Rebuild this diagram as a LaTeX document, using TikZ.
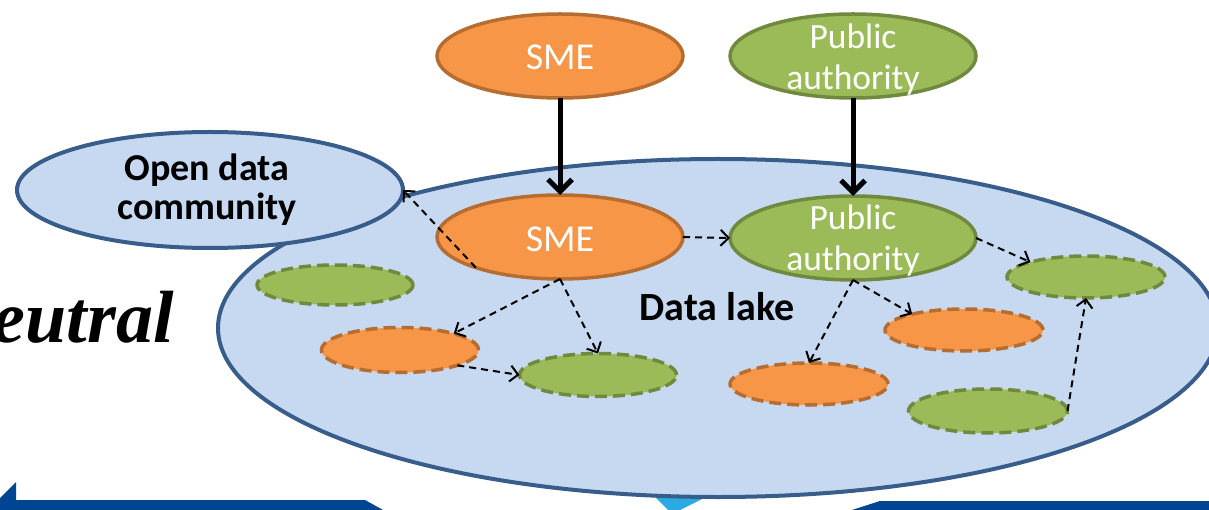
\documentclass[tikz,border=0pt]{standalone}
\usepackage{fontspec}
\setmainfont{Carlito}
\newfontfamily\serifbi{Liberation Serif}
\usetikzlibrary{shapes.geometric,arrows.meta}
\definecolor{lakefill}{HTML}{C6D9F1}
\definecolor{lakeline}{HTML}{385D8A}
\definecolor{orfill}{HTML}{F79646}
\definecolor{orline}{HTML}{B66D31}
\definecolor{grfill}{HTML}{9BBB59}
\definecolor{grline}{HTML}{71893F}
\definecolor{barblue}{HTML}{004592}
\definecolor{cyanb}{HTML}{29ABE2}
\begin{document}
\begin{tikzpicture}[x=1pt,y=-1pt,
  blob/.style={ellipse, inner sep=0pt, outer sep=0pt},
  lakestyle/.style={blob, fill=lakefill, draw=lakeline, line width=4pt},
  orsolid/.style={blob, fill=orfill, draw=orline, line width=3.5pt, minimum width=246pt, minimum height=84pt},
  grsolid/.style={blob, fill=grfill, draw=grline, line width=3.5pt, minimum width=246pt, minimum height=84pt},
  ordash/.style={blob, fill=orfill, draw=orline, line width=3.5pt, dash pattern=on 12pt off 6pt},
  grdash/.style={blob, fill=grfill, draw=grline, line width=3.5pt, dash pattern=on 12pt off 6pt},
  whitetxt/.style={text=white, inner sep=0pt, align=center},
  boldtxt/.style={text=black, inner sep=0pt, align=center, font=\bfseries\fontsize{38}{39}\selectfont},
  darrow/.style={black, line width=2pt, dash pattern=on 7pt off 5pt, -{Straight Barb[length=8pt,width=16pt]}},
  bigarrow/.style={black, line width=5pt, -{Straight Barb[length=12pt,width=24pt]}}
]
\clip (0,0) rectangle (1209,510);
\fill[white] (0,0) rectangle (1209,510);

% bottom decorations
\fill[barblue] (0,498) -- (16,482) -- (16,500) -- (365,500) -- (383,510) -- (0,510) -- cycle;
\fill[barblue] (852,510) -- (880,501) -- (1209,501) -- (1209,510) -- cycle;
\fill[cyanb] (652,494) -- (712,494) -- (672,514) -- cycle;

% cut word
\node[anchor=base east, inner sep=0pt, font=\serifbi\bfseries\itshape\fontsize{74}{78}\selectfont] (neutral) at (174,342) {eutral};

% data lake
\node[lakestyle, minimum width=1000pt, minimum height=338pt] (lake) at (718,328) {};
\node[boldtxt, font=\bfseries\fontsize{40}{44}\selectfont] (laketxt) at (717,307) {Data lake};

% open data community
\node[lakestyle, minimum width=386pt, minimum height=116pt] (odc) at (210,190) {};
\node[boldtxt] (odctxt) at (207,190) {Open data\\community};

% top actors
\node[orsolid] (tsme) at (560,56) {};
\node[whitetxt, font=\fontsize{38}{42}\selectfont] (tsmetxt) at (560,57.5) {SME};
\node[grsolid] (tpa) at (853,56) {};
\node[whitetxt, font=\fontsize{35.5}{41}\selectfont] (tpatxt) at (853,60) {Public\\authority};

% actors in the lake
\node[orsolid] (sme) at (560,237) {};
\node[whitetxt, font=\fontsize{38}{42}\selectfont] (smetxt) at (560,239) {SME};
\node[grsolid] (pa) at (853,238) {};
\node[whitetxt, font=\fontsize{35.5}{41}\selectfont] (patxt) at (853,241) {Public\\authority};

% small dashed ellipses
\node[grdash, minimum width=156pt, minimum height=40pt] (g1) at (335,285) {};
\node[ordash, minimum width=157pt, minimum height=45pt] (o1) at (400,350) {};
\node[grdash, minimum width=157pt, minimum height=43pt] (g2) at (598,375) {};
\node[grdash, minimum width=158pt, minimum height=42pt] (g3) at (1086,277) {};
\node[ordash, minimum width=158pt, minimum height=42pt] (o2) at (964,330) {};
\node[ordash, minimum width=158pt, minimum height=42pt] (o3) at (809,384) {};
\node[grdash, minimum width=159pt, minimum height=44pt] (g4) at (988,411) {};

% solid arrows
\draw[bigarrow] (tsme) -- (sme);
\draw[bigarrow] (tpa) -- (pa);

% dashed arrows
\draw[darrow] (sme.200) -- (odc.east);
\draw[darrow] (sme.east) -- (pa.west);
\draw[darrow] (sme.south) -- (o1.17);
\draw[darrow] (sme.south) -- (g2.north);
\draw[darrow] (o1.-15) -- (g2.west);
\draw[darrow] (pa.south) -- (o3.north);
\draw[darrow] (pa.south) -- (o2.163);
\draw[darrow] (pa.east) -- (g3.165);
\draw[darrow] (g4.east) -- (g3.south);
\end{tikzpicture}
\end{document}
